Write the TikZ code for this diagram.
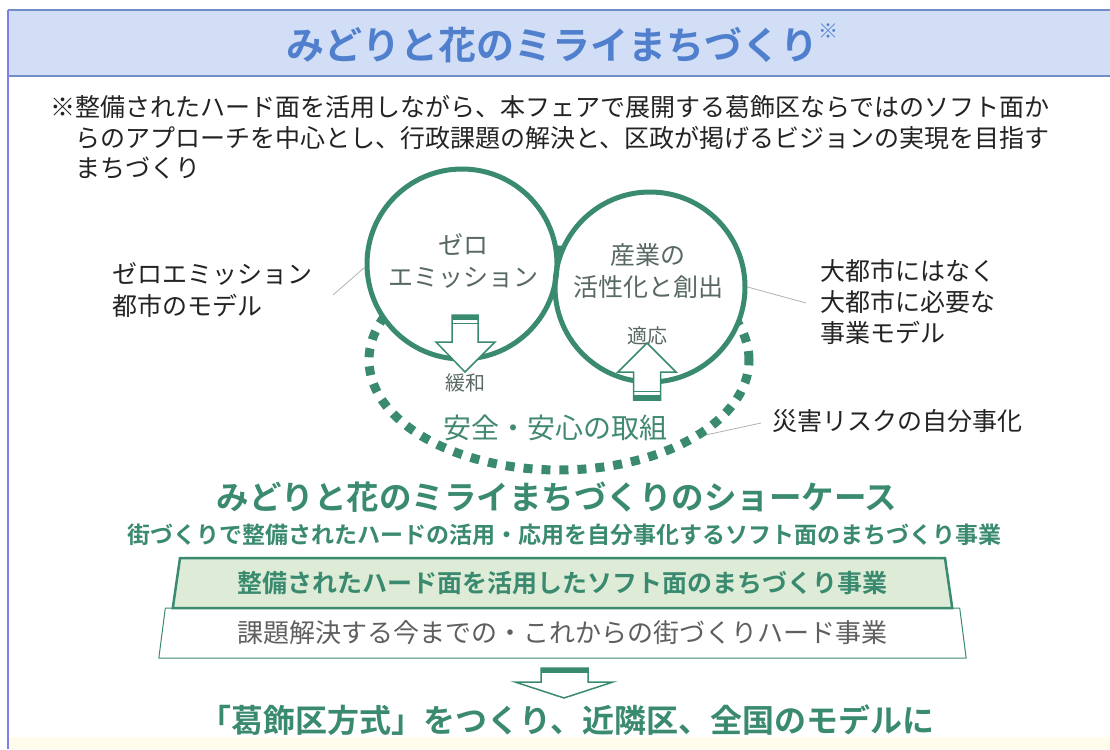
\documentclass[tikz,border=0pt]{standalone}
\usepackage{fontspec}
\setmainfont{Noto Sans CJK JP}[BoldFont={Noto Sans CJK JP Bold}]
\usepackage{tikz}
\usetikzlibrary{positioning, shapes.geometric}
\definecolor{machigreen}{RGB}{58,138,112}
\definecolor{machilight}{RGB}{222,236,215}
\definecolor{titleblue}{RGB}{80,128,205}
\definecolor{bandblue}{RGB}{210,222,246}
\definecolor{bandline}{RGB}{112,142,200}
\definecolor{framepurple}{RGB}{125,125,235}
\definecolor{bodygray}{RGB}{35,35,35}
\definecolor{circlegray}{RGB}{88,104,98}
\definecolor{softgray}{RGB}{95,95,95}
\definecolor{paleyellow}{RGB}{255,252,236}
\tikzset{
  every node/.style={inner sep=0pt}, % text nodes sit exactly where they are put
  ring/.style={circle, draw=machigreen, line width=5pt, minimum size=190pt}, % the two big circles
  dotring/.style={ellipse, draw=machigreen, line width=9pt, dash pattern=on 9pt off 9pt, minimum width=380pt, minimum height=220pt}, % dotted ring round both circles
  hollowarrow/.style={draw=machigreen, line width=1.5pt, fill=white, line join=miter}, % white block arrows
  leader/.style={draw=gray!60, line width=0.8pt}, % thin grey pointer lines
  notetext/.style={font=\fontsize{25}{31}\selectfont, text=bodygray, anchor=west},
  sidetext/.style={font=\fontsize{25}{31}\selectfont, text=bodygray, align=left, anchor=west},
  circletext/.style={font=\fontsize{25}{32}\selectfont, text=circlegray, align=center},
  arrowlabel/.style={font=\fontsize{20}{22}\selectfont, text=circlegray},
  bandtitle/.style={font=\bfseries\fontsize{38}{40}\selectfont, text=titleblue},
  greenbold/.style={font=\bfseries\fontsize{#1}{#1}\selectfont, text=machigreen},
  softtrap/.style={trapezium, trapezium stretches=true, trapezium angle=75.4, minimum width=787pt, minimum height=50pt, draw=machigreen, line width=2.5pt, fill=machilight},
  basetrap/.style={trapezium, trapezium stretches=true, trapezium angle=77.6, minimum width=809pt, minimum height=50pt, draw=machigreen, line width=1pt, fill=white}
}

\begin{document}
\begin{tikzpicture}[x=1pt, y=-1pt]
  \useasboundingbox (0,0) rectangle (1110,749);
  \fill[white] (0,0) rectangle (1110,749);
  \fill[paleyellow] (8,737) rectangle (1110,749);
  \fill[bandblue] (8,10) rectangle (1110,76);
  \draw[bandline, line width=2pt] (8,10) -- (1110,10) (8,76) -- (1110,76);
  \draw[framepurple, line width=2pt] (8,10) -- (8,749);

  \node[bandtitle] (title) at (562,43) {みどりと花のミライまちづくり\raisebox{.55em}{\fontsize{20}{20}\selectfont ※}};
  \node[notetext] (note1) at (50,107) {※整備されたハード面を活用しながら、本フェアで展開する葛飾区ならではのソフト面か};
  \node[notetext] (note2) at (75,138) {らのアプローチを中心とし、行政課題の解決と、区政が掲げるビジョンの実現を目指す};
  \node[notetext] (note3) at (75,168) {まちづくり};

  % dotted ring goes first, the circles hide its top
  \node[dotring] (anzen) at (559,360) {};
  \fill[white] (462,264) circle (95) (650,287) circle (95);
  \node[ring] (zero) at (462,264) {};
  \node[ring] (sangyo) at (650,287) {};
  \node[circletext] (zerotxt) at (463,261) {ゼロ\\エミッション};
  \node[circletext] (sangyotxt) at (648,271) {産業の\\活性化と創出};

  \coordinate (kanwatip) at (465,372);
  \draw[hollowarrow] (452,315) -- (478,315) -- (478,342) -- (495,342) -- (kanwatip) -- (436,342) -- (452,342) -- cycle;
  \fill[machigreen] (452,315) rectangle (478,320);
  \draw[machigreen, line width=1.2pt] (452,323.5) -- (478,323.5);
  \node[arrowlabel, below=1pt of kanwatip] (kanwa) {緩和};

  \coordinate (tekiotip) at (647,343);
  \draw[hollowarrow] (633.5,400) -- (660.5,400) -- (660.5,372) -- (676,372) -- (tekiotip) -- (618,372) -- (633.5,372) -- cycle;
  \fill[machigreen] (633.5,395) rectangle (660.5,400);
  \draw[machigreen, line width=1.2pt] (633.5,391.5) -- (660.5,391.5);
  \node[arrowlabel, above=-2pt of tekiotip] (tekio) {適応};

  \node[font=\fontsize{28}{30}\selectfont, text=machigreen!90!gray] (anzentxt) at (555,428) {安全・安心の取組};

  \node[sidetext, font=\fontsize{25}{32}\selectfont] (zmodel) at (112,290) {ゼロエミッション\\都市のモデル};
  \node[sidetext] (bigcity) at (820,302) {大都市にはなく\\大都市に必要な\\事業モデル};
  \node[sidetext] (risk) at (772,421) {災害リスクの自分事化};
  \coordinate (zlead) at (333,295);
  \coordinate (blead) at (806,303);
  \coordinate (rlead) at (761,423);
  \draw[leader] (zlead) -- (zero.182);
  \draw[leader] (sangyo.east) -- (blead);
  \draw[leader] (anzen.-27) -- (rlead);

  \node[greenbold=32.5] (showcase) at (557,497) {みどりと花のミライまちづくりのショーケース};
  \node[greenbold=23] (showsub) at (564,535) {街づくりで整備されたハードの活用・応用を自分事化するソフト面のまちづくり事業};
  \node[basetrap, font=\fontsize{26}{26}\selectfont, text=softgray] (hardbase) at (562.5,633) {課題解決する今までの・これからの街づくりハード事業};
  \node[softtrap, greenbold=25] (softbiz) at (562.5,583) {整備されたハード面を活用したソフト面のまちづくり事業};

  \coordinate (modeltip) at (564,698);
  \draw[hollowarrow] (541,668) -- (588,668) -- (588,682) -- (613,682) -- (modeltip) -- (515,682) -- (541,682) -- cycle;
  \fill[machigreen] (541,668) rectangle (588,673);
  \node[greenbold=32] (katsushika) at (567,720) {「葛飾区方式」をつくり、近隣区、全国のモデルに};
\end{tikzpicture}
\end{document}
